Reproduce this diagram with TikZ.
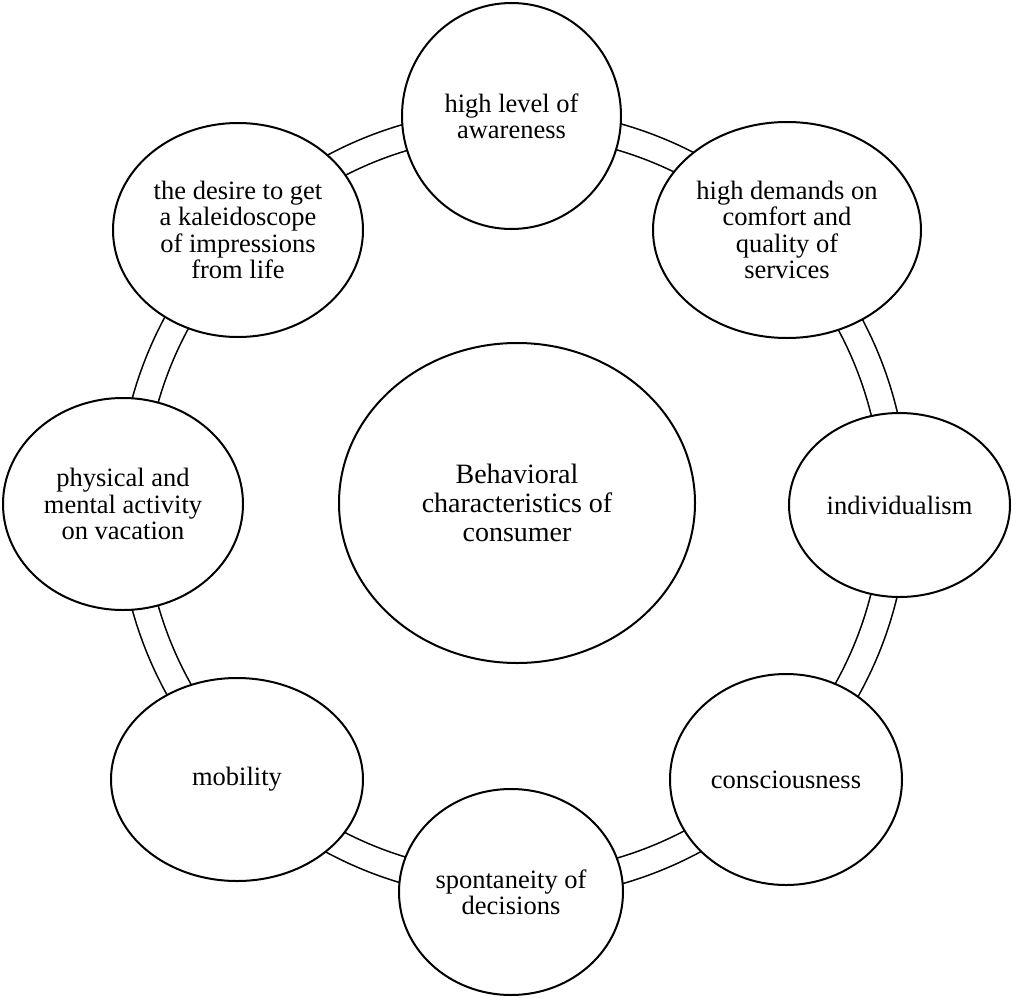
\documentclass[tikz,border=0pt]{standalone}
\usepackage{fontspec}
\setmainfont{Liberation Serif}
\usetikzlibrary{shapes.geometric}
\begin{document}
\begin{tikzpicture}[x=1pt,y=-1pt,
  bubble/.style={ellipse, draw, line width=2pt, fill=white, inner sep=0pt,
    align=center, font=\fontsize{26.5}{26.3}\selectfont},
  corebubble/.style={bubble, font=\fontsize{28}{28.7}\selectfont},
  ringline/.style={draw, line width=1.6pt, double=white, double distance=24.4pt}]
\useasboundingbox (0,0) rectangle (1012,998);

% double ring linking the outer bubbles
\coordinate (hub) at (513,504);
\draw[ringline] (hub) circle[radius=382pt];

% outer bubbles
\node[bubble, minimum width=219pt, minimum height=226pt] (awareness) at (511.5,116)
  {high level of\\awareness};
\node[bubble, minimum width=268pt, minimum height=216pt] (comfort) at (787,230)
  {high demands on\\comfort and\\quality of\\services};
\node[bubble, minimum width=221pt, minimum height=184pt] (individ) at (899.5,505)
  {individualism};
\node[bubble, minimum width=232pt, minimum height=211pt] (conscious) at (786,779.5)
  {consciousness};
\node[bubble, minimum width=224pt, minimum height=206pt] (spont) at (511,892)
  {spontaneity of\\decisions};
\node[bubble, minimum width=252pt, minimum height=203pt] (mobility) at (237,779.5)
  {mobility};
\node[bubble, minimum width=240pt, minimum height=212pt] (activity) at (123,504)
  {physical and\\mental activity\\on vacation};
\node[bubble, minimum width=250pt, minimum height=214pt] (desire) at (238,230)
  {the desire to get\\a kaleidoscope\\of impressions\\from life};

% central bubble
\node[corebubble, minimum width=356pt, minimum height=320pt] (core) at (517,503)
  {Behavioral\\characteristics of\\consumer};
\end{tikzpicture}
\end{document}
